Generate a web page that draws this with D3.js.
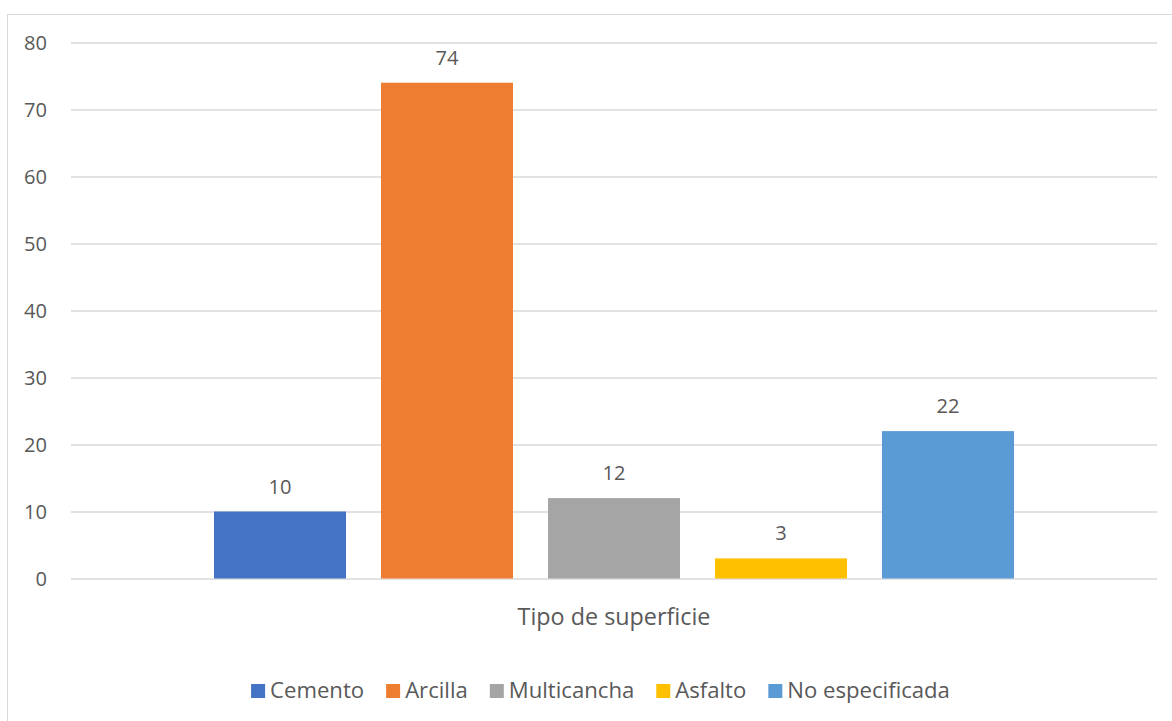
<!DOCTYPE html>
<html>
<head>
<meta charset="utf-8">
<script src="https://cdn.jsdelivr.net/npm/d3@7"></script>
<style>
html,body{margin:0;padding:0;background:#fff;}
svg{display:block;}
text{font-family:"Open Sans",sans-serif;fill:#595959;}
</style>
</head>
<body>
<svg id="chart" width="1172" height="721"></svg>
<script>
const category = ["Tipo de superficie"];
const series = ["Cemento", "Arcilla", "Multicancha", "Asfalto", "No especificada"];
const values = [10, 74, 12, 3, 22];
const colors = ["#4472C4", "#ED7D31", "#A5A5A5", "#FFC000", "#5B9BD5"];
const yTicks = [0, 10, 20, 30, 40, 50, 60, 70, 80];

const svg = d3.select("#chart");
const W = 1172, H = 721;
const plot = {left: 71, right: 1157, top: 42.5, bottom: 578.5};

// fit a font size so text matches a reference width
function fitSize(sel, base, target) {
  let tot = 0;
  sel.attr("font-size", base).each(function(){ tot += this.getComputedTextLength(); });
  const fs = base * target / tot;
  sel.attr("font-size", fs);
  return fs;
}

svg.append("rect")
  .attr("x", 7.5).attr("y", 14.5)
  .attr("width", W + 20).attr("height", H + 20)
  .attr("fill", "#fff").attr("stroke", "#D9D9D9").attr("stroke-width", 1);

const y = d3.scaleLinear().domain([0, 80]).range([plot.bottom, plot.top]);
const x0 = d3.scaleBand().domain(category).range([plot.left, plot.right])
  .paddingInner(0).paddingOuter(0.1503);
const x1 = d3.scaleBand().domain(series).range([0, x0.bandwidth()])
  .paddingInner(0.2096).paddingOuter(0.1048);

const yAxis = d3.axisLeft(y).tickValues(yTicks).tickSize(-(plot.right - plot.left)).tickPadding(24);
const ga = svg.append("g").attr("transform", `translate(${plot.left},0)`).call(yAxis);
ga.select(".domain").remove();
ga.selectAll(".tick line").attr("stroke", "#D9D9D9").attr("stroke-width", 1.3);
const tickTexts = ga.selectAll(".tick text").attr("fill", "#595959")
  .style("font-family", "'Open Sans', sans-serif");
fitSize(ga.selectAll(".tick text").filter(d => d === 80), 18, 23);
tickTexts.attr("font-size", ga.select(".tick:last-of-type text").attr("font-size"));
ga.selectAll(".tick text").attr("dy", "0.36em");

const g = svg.append("g");
const data = series.map((s, i) => ({s, v: values[i], c: colors[i]}));
g.selectAll("rect.bar").data(data).enter().append("rect")
  .attr("class", "bar")
  .attr("x", d => x0(category[0]) + x1(d.s))
  .attr("width", x1.bandwidth())
  .attr("y", d => y(d.v))
  .attr("height", d => y(0) - y(d.v))
  .attr("fill", d => d.c);

const lbls = g.selectAll("text.lbl").data(data).enter().append("text")
  .attr("class", "lbl")
  .attr("x", d => x0(category[0]) + x1(d.s) + x1.bandwidth() / 2)
  .attr("y", d => y(d.v) - 18)
  .attr("text-anchor", "middle")
  .text(d => d.v);
fitSize(lbls.filter(d => d.v === 74), 18, 23);
lbls.attr("font-size", lbls.filter(d => d.v === 74).attr("font-size"));

const title = svg.append("text")
  .attr("x", x0(category[0]) + x0.bandwidth() / 2)
  .attr("y", 625)
  .attr("text-anchor", "middle")
  .text(category[0]);
fitSize(title, 20, 193);

const lg = svg.append("g");
const items = lg.selectAll("g").data(data).enter().append("g");
items.append("rect").attr("width", 14).attr("height", 14).attr("y", 684).attr("fill", d => d.c);
const ltexts = items.append("text").attr("x", 19).attr("y", 698).text(d => d.s);
fitSize(ltexts, 18, 516);
let cx = 0;
items.each(function() {
  const t = d3.select(this).select("text").node().getComputedTextLength();
  d3.select(this).attr("transform", `translate(${cx},0)`);
  cx += 19 + t + 22;
});
const total = cx - 22;
lg.attr("transform", `translate(${600.5 - total / 2},0)`);
</script>
</body>
</html>
